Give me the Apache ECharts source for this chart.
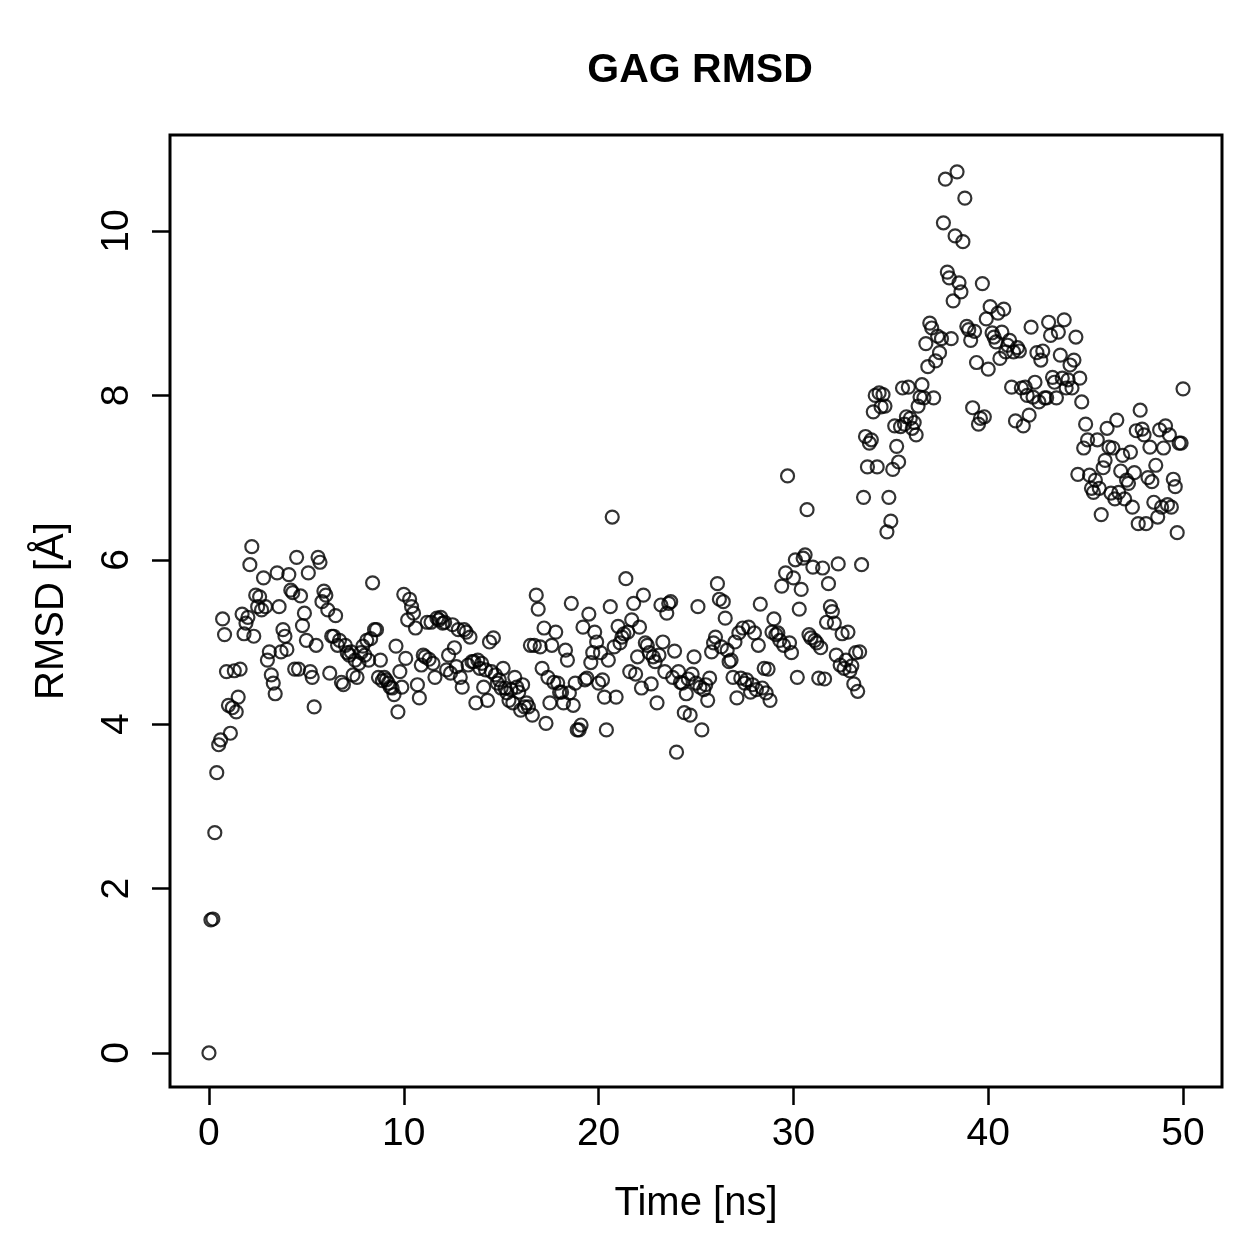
<!DOCTYPE html>
<html>
<head>
<meta charset="utf-8">
<script src="https://cdn.jsdelivr.net/npm/echarts@6/dist/echarts.min.js"></script>
<style>
  html, body { margin: 0; padding: 0; background: #fff; }
  #chart { width: 1259px; height: 1259px; }
</style>
</head>
<body>
<div id="chart"></div>
<script>
// sampling: one frame every 0.1 ns, 0 .. 50 ns
var timeStart = 0;
var timeStep = 0.1;

// RMSD values (Å), one row per ns
var rmsd = [
  0.00, 1.62, 1.63, 2.68, 3.41, 3.75, 3.81, 5.28, 5.09, 4.64,
  4.23, 3.89, 4.20, 4.65, 4.15, 4.33, 4.67, 5.34, 5.10, 5.23,
  5.30, 5.94, 6.16, 5.07, 5.57, 5.43, 5.55, 5.39, 5.78, 5.43,
  4.78, 4.88, 4.60, 4.50, 4.37, 5.84, 5.43, 4.88, 5.15, 5.07,
  4.91, 5.82, 5.63, 5.60, 4.67, 6.03, 4.67, 5.56, 5.20, 5.35,
  5.02, 5.84, 4.64, 4.57, 4.21, 4.96, 6.03, 5.97, 5.49, 5.62,
  5.57, 5.39, 4.62, 5.07, 5.07, 5.32, 4.96, 5.02, 4.51, 4.48,
  4.96, 4.87, 4.84, 4.88, 4.60, 4.78, 4.57, 4.74, 4.87, 4.95,
  4.84, 5.02, 4.78, 5.04, 5.72, 5.15, 5.15, 4.57, 4.78, 4.53,
  4.57, 4.54, 4.50, 4.45, 4.44, 4.36, 4.95, 4.15, 4.64, 4.45,
  5.58, 4.80, 5.27, 5.52, 5.43, 5.35, 5.17, 4.48, 4.32, 4.72,
  4.84, 4.82, 5.24, 4.79, 5.24, 4.74, 4.57, 5.29, 5.27, 5.30,
  5.23, 5.24, 4.66, 4.84, 4.62, 5.21, 4.93, 4.70, 5.15, 4.57,
  4.45, 5.15, 5.12, 4.72, 5.06, 4.76, 4.76, 4.26, 4.78, 4.68,
  4.74, 4.45, 4.66, 4.29, 5.00, 4.64, 5.05, 4.60, 4.50, 4.54,
  4.44, 4.68, 4.44, 4.38, 4.29, 4.42, 4.26, 4.57, 4.45, 4.39,
  4.17, 4.48, 4.21, 4.26, 4.21, 4.96, 4.11, 4.96, 5.57, 5.40,
  4.94, 4.68, 5.17, 4.01, 4.57, 4.26, 4.96, 4.51, 5.12, 4.50,
  4.39, 4.39, 4.26, 4.90, 4.78, 4.38, 5.47, 4.23, 4.50, 3.93,
  3.93, 3.99, 5.18, 4.54, 4.56, 5.34, 4.75, 4.87, 5.12, 5.00,
  4.50, 4.87, 4.54, 4.33, 3.93, 4.78, 5.43, 6.52, 4.94, 4.33,
  5.19, 4.99, 5.06, 5.10, 5.77, 5.12, 4.64, 5.27, 5.47, 4.61,
  4.82, 5.18, 4.44, 5.57, 4.99, 4.96, 4.87, 4.49, 4.82, 4.76,
  4.26, 4.84, 5.45, 5.00, 4.64, 5.35, 5.47, 5.49, 4.57, 4.89,
  3.66, 4.64, 4.51, 4.50, 4.14, 4.37, 4.55, 4.11, 4.61, 4.82,
  4.50, 5.43, 4.45, 3.93, 4.42, 4.48, 4.29, 4.56, 4.88, 4.99,
  5.06, 5.71, 5.52, 4.94, 5.49, 5.29, 4.90, 4.76, 4.78, 4.57,
  5.00, 4.32, 5.11, 4.56, 5.17, 4.50, 4.54, 5.18, 4.39, 4.48,
  5.11, 4.42, 4.96, 5.46, 4.44, 4.68, 4.38, 4.67, 4.29, 5.12,
  5.28, 5.09, 5.11, 5.02, 5.68, 4.96, 5.84, 7.02, 4.99, 4.87,
  5.78, 6.00, 4.57, 5.40, 5.64, 6.02, 6.06, 6.61, 5.09, 5.05,
  5.91, 5.02, 4.99, 4.56, 4.93, 5.90, 4.55, 5.24, 5.71, 5.43,
  5.37, 5.23, 4.84, 5.95, 4.72, 5.10, 4.68, 4.78, 5.12, 4.65,
  4.71, 4.49, 4.87, 4.40, 4.88, 5.94, 6.76, 7.50, 7.13, 7.42,
  7.46, 7.80, 8.00, 7.13, 8.03, 7.86, 8.01, 7.87, 6.34, 6.76,
  6.47, 7.10, 7.63, 7.38, 7.19, 7.62, 8.09, 7.65, 7.74, 8.10,
  7.72, 7.60, 7.67, 7.52, 7.87, 7.98, 8.13, 7.97, 8.63, 8.35,
  8.88, 8.82, 7.97, 8.42, 8.72, 8.52, 8.69, 10.10, 10.63, 9.50,
  9.43, 8.69, 9.15, 9.94, 10.72, 9.37, 9.26, 9.87, 10.40, 8.84,
  8.80, 8.67, 7.85, 8.78, 8.40, 7.65, 7.72, 9.36, 7.74, 8.93,
  8.32, 9.08, 8.76, 8.71, 8.65, 9.00, 8.45, 8.77, 9.05, 8.53,
  8.61, 8.67, 8.10, 8.53, 7.69, 8.58, 8.54, 8.09, 7.63, 8.10,
  8.00, 7.76, 8.83, 7.98, 8.16, 8.52, 7.92, 8.43, 8.54, 7.97,
  7.97, 8.89, 8.73, 8.22, 8.16, 7.97, 8.77, 8.49, 8.21, 8.92,
  8.09, 8.19, 8.37, 8.09, 8.43, 8.71, 7.04, 8.21, 7.92, 7.36,
  7.65, 7.46, 7.03, 6.87, 6.82, 6.97, 7.46, 6.87, 6.55, 7.12,
  7.21, 7.60, 7.37, 6.81, 7.36, 6.74, 7.70, 6.82, 7.08, 7.27,
  6.74, 6.97, 6.93, 7.31, 6.64, 7.06, 7.57, 6.44, 7.82, 7.59,
  7.52, 6.44, 7.00, 7.37, 6.95, 6.70, 7.15, 6.52, 7.58, 6.64,
  7.36, 7.63, 6.67, 7.52, 6.64, 6.98, 6.89, 6.33, 7.42, 7.42,
  8.08
];

var xTicks = [0, 10, 20, 30, 40, 50];
var yTicks = [0, 2, 4, 6, 8, 10];

var points = rmsd.map(function(v, i) {
  return [+(timeStart + i * timeStep).toFixed(1), v];
});

var font = 'Liberation Sans, Arial, Helvetica, sans-serif';

var myChart = echarts.init(document.getElementById('chart'));
myChart.setOption({
  animation: false,
  backgroundColor: '#fff',
  title: {
    text: 'GAG RMSD',
    left: 695,
    textAlign: 'center',
    top: 45,
    textStyle: { fontFamily: font, fontSize: 41, fontWeight: 'bold', color: '#000' }
  },
  grid: {
    left: 170,
    top: 135,
    width: 1052,
    height: 952,
    show: true,
    borderColor: '#000',
    borderWidth: 3,
    containLabel: false
  },
  xAxis: {
    type: 'value',
    min: -2,
    max: 52,
    name: 'Time [ns]',
    nameLocation: 'middle',
    nameGap: 97,
    nameTextStyle: { fontFamily: font, fontSize: 40, color: '#000' },
    splitLine: { show: false },
    axisLine: { show: false, onZero: false },
    axisTick: {
      show: true,
      length: 18,
      customValues: xTicks,
      lineStyle: { color: '#000', width: 2.5 }
    },
    axisLabel: {
      customValues: xTicks,
      margin: 28,
      fontFamily: font,
      fontSize: 39,
      color: '#000'
    }
  },
  yAxis: {
    type: 'value',
    min: -0.414,
    max: 11.168,
    name: 'RMSD [Å]',
    nameLocation: 'middle',
    nameGap: 98,
    nameRotate: 90,
    nameTextStyle: { fontFamily: font, fontSize: 40, color: '#000' },
    splitLine: { show: false },
    axisLine: { show: false, onZero: false },
    axisTick: {
      show: true,
      length: 18,
      customValues: yTicks,
      lineStyle: { color: '#000', width: 2.5 }
    },
    axisLabel: {
      customValues: yTicks,
      rotate: 90,
      margin: 33,
      fontFamily: font,
      fontSize: 39,
      color: '#000'
    }
  },
  series: [
    {
      name: 'RMSD',
      type: 'scatter',
      data: points,
      symbol: 'circle',
      symbolSize: 13,
      itemStyle: {
        color: 'rgba(0,0,0,0)',
        borderColor: '#000',
        borderWidth: 2.2
      }
    }
  ]
});
</script>
</body>
</html>
